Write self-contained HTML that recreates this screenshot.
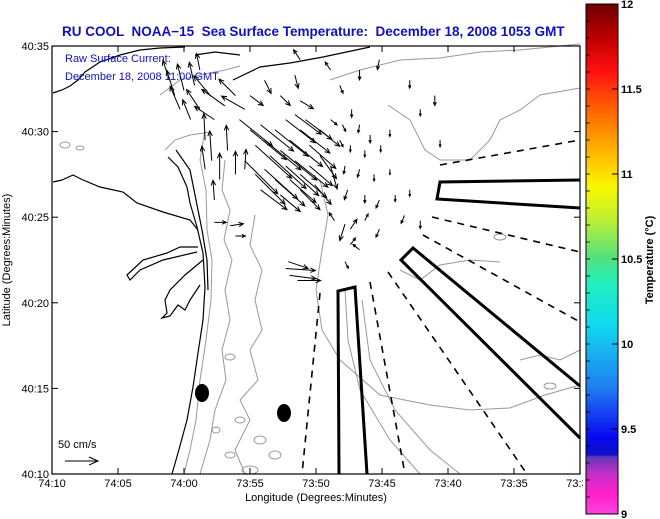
<!DOCTYPE html>
<html><head><meta charset="utf-8">
<style>
html,body{margin:0;padding:0;background:#fff;}
svg{display:block;font-family:"Liberation Sans",Arial,sans-serif;}
</style></head>
<body>
<svg id="chart" width="660" height="519" viewBox="0 0 660 519" xmlns="http://www.w3.org/2000/svg">
<defs>
<linearGradient id="cbar" x1="0" y1="1" x2="0" y2="0">
<stop offset="0" stop-color="#ff40e0"/>
<stop offset="0.04" stop-color="#ff20c8"/>
<stop offset="0.08" stop-color="#c030c8"/>
<stop offset="0.112" stop-color="#6038b8"/>
<stop offset="0.116" stop-color="#1010c8"/>
<stop offset="0.15" stop-color="#0808f0"/>
<stop offset="0.25" stop-color="#2080f0"/>
<stop offset="0.37" stop-color="#10d8f0"/>
<stop offset="0.45" stop-color="#20f0c0"/>
<stop offset="0.5" stop-color="#50e080"/>
<stop offset="0.58" stop-color="#c0f030"/>
<stop offset="0.64" stop-color="#f8f800"/>
<stop offset="0.7" stop-color="#ffc000"/>
<stop offset="0.78" stop-color="#ff7000"/>
<stop offset="0.87" stop-color="#ff1010"/>
<stop offset="0.93" stop-color="#c00000"/>
<stop offset="1" stop-color="#700000"/>
</linearGradient>
</defs>
<rect x="0" y="0" width="660" height="519" fill="#fff"/>
<text x="62" y="36" fill="#1010c0" font-size="13.5" font-weight="bold" xml:space="preserve">RU COOL  NOAA−15  Sea Surface Temperature:  December 18, 2008 1053 GMT</text>

<g id="map">
<g fill="none" stroke="#999" stroke-width="1">
<path d="M205,130 L200,160 L206,190 L207,230 L212,260 L211,300 L206,340 L200,380 L196,420 L190,450 L184,474"/>
<path d="M225,160 L222,190 L230,210 L224,240 L232,260 L225,290 L230,320 L222,350 L226,380 L215,410 L210,440 L200,474"/>
<path d="M255,215 L250,245 L262,270 L255,300 L262,330 L250,350 L258,380 L240,400 L250,420 L235,450 L245,474"/>
<path d="M320,180 L328,215 L322,250 L316,290 L322,330 L340,360 L380,395 L430,405 L470,410 L510,408 L545,395 L580,385"/>
<path d="M345,290 L348,340 L360,390 L390,440 L420,474"/>
<path d="M362,300 L370,360 L395,410 L430,450 L460,474"/>
<path d="M388,105 L410,120 L425,150 L440,160 L470,160 L490,140 L500,120 L520,110 L540,95 L580,88"/>
<path d="M330,80 L360,70 L400,60 L440,58 L480,52 L520,50 L580,44"/>
<path d="M160,95 L180,80 L200,75 L225,70 L240,66"/>
<path d="M165,150 L175,140 L190,135 L210,132"/>
<path d="M400,270 L420,280 L440,265 L470,260 L500,262"/>
<path d="M520,360 L540,355 L560,360 L580,350"/>
<ellipse cx="240" cy="420" rx="5" ry="3"/><ellipse cx="260" cy="440" rx="6" ry="4"/>
<ellipse cx="230" cy="455" rx="5" ry="3"/><ellipse cx="275" cy="455" rx="6" ry="4"/>
<ellipse cx="250" cy="470" rx="8" ry="4"/><ellipse cx="216" cy="430" rx="4" ry="3"/>
<ellipse cx="230" cy="357" rx="5" ry="3"/><ellipse cx="550" cy="386" rx="6" ry="3"/>
<ellipse cx="500" cy="237" rx="6" ry="3"/><ellipse cx="65" cy="145" rx="5" ry="3"/>
<ellipse cx="80" cy="148" rx="4" ry="2"/>
</g>
<g fill="none" stroke="#000" stroke-width="1.2">
<path d="M168,157 L178,167 L187,187 L190,203 L197,227 L203,253 L205,287 L203,320 L198,353 L193,387 L187,420 L178,453 L172,474"/>
<path d="M176,150 L190,170 L196,200 L202,230 L207,260 L208,290"/>
<path d="M53,182 L62,180 L73,175 L83,180 L100,187 L123,192 L137,203 L163,212 L190,220 L198,230"/>
<path d="M198,247 L180,247 L167,253 L143,260 L127,275 L130,280 L140,270 L163,260 L197,252"/>
<path d="M203,260 L185,275 L170,290 L165,300 L167,313 L162,318 L170,316 L178,305 L185,310 L190,300 L200,285"/>
<path d="M53,93 L62,90 L70,86 L78,80 L85,72 L100,62 L120,55 L140,50 L160,48 L185,47"/>
<path d="M195,55 L215,52 L240,55"/>
<path d="M233,80 L260,67 L290,63 L323,57 L370,47"/>
</g>
<g fill="none" stroke="#000" stroke-width="3">
<path d="M339,474 L338,291 L355,287 L367,474"/>
<path d="M580,180 L440,182 L437,199 L580,208"/>
<path d="M580,386 L413,248 L401,260 L580,438"/>
</g>
<g fill="none" stroke="#000" stroke-width="1.6" stroke-dasharray="7,6">
<path d="M440,165 L580,140"/>
<path d="M432,217 L580,252"/>
<path d="M423,235 L580,322"/>
<path d="M388,272 L527,474"/>
<path d="M370,282 L405,474"/>
<path d="M320,293 L302,474"/>
</g>
<ellipse cx="202" cy="393" rx="7" ry="9" fill="#000"/>
<ellipse cx="284" cy="413" rx="7" ry="9" fill="#000"/>
<g id="arrows" stroke="#000" stroke-width="1" fill="none"></g>
</g>

<text x="65" y="62" fill="#1010c0" font-size="11">Raw Surface Current:</text>
<text x="65" y="80" fill="#1010c0" font-size="11">December 18, 2008 11:00 GMT</text>

<text x="58" y="448" font-size="11" fill="#000">50 cm/s</text>
<g stroke="#000" stroke-width="1" fill="none">
<line x1="65" y1="461" x2="98" y2="461"/><path d="M89,457 L98,461 L89,465"/>
</g>

<rect x="52" y="46" width="528" height="428" fill="none" stroke="#000" stroke-width="1.2"/>
<g id="xaxis"></g>
<g id="yaxis"></g>
<text x="316" y="501" text-anchor="middle" font-size="11">Longitude (Degrees:Minutes)</text>
<text transform="translate(10,260) rotate(-90)" text-anchor="middle" font-size="11">Latitude (Degrees:Minutes)</text>

<rect x="583" y="0" width="77" height="519" fill="#fff"/>
<rect x="586" y="4" width="32" height="510" fill="url(#cbar)" stroke="#000" stroke-width="1"/>
<g id="cbticks"></g>
<text transform="translate(653,260) rotate(-90)" text-anchor="middle" font-size="11" font-weight="bold">Temperature (°C)</text>
</svg>
<script>
const xTickMin = [70, 65, 60, 55, 50, 45, 40, 35, 30];
const xTickLabels = ["74:10","74:05","74:00","73:55","73:50","73:45","73:40","73:35","73:30"];
const yTickMin = [10, 15, 20, 25, 30, 35];
const yTickLabels = ["40:10","40:15","40:20","40:25","40:30","40:35"];
const cbTicks = [9, 9.5, 10, 10.5, 11, 11.5, 12];
const cbLabels = ["9","9.5","10","10.5","11","11.5","12"];
const arrowLon = [60.7,60.0,59.2,60.3,59.5,58.8,58.0,61.1,58.8,57.7,56.9,56.1,55.4,
 58.4,57.9,57.3,56.7,56.1,57.7,55.4,58.4,
 55.0,53.9,52.7,51.6,51.2,
 55.8,55.0,54.2,54.6,53.9,53.1,53.5,52.7,52.0,52.3,51.6,51.2,50.5,55.4,54.6,53.9,53.1,52.0,51.2,50.5,52.3,51.6,50.8,49.7,49.7,48.9,54.2,52.7,51.2,50.1,
 48.9,48.0,47.3,46.7,45.9,48.2,47.4,46.3,45.1,44.4,47.8,46.7,45.6,44.4,47.6,46.3,45.2,44.0,43.3,42.1,42.9,42.1,40.6,48.6,47.4,46.3,45.2,
 47.8,47.4,46.7,47.8,
 52.3,52.0,52.1,51.4,
 57.7,56.5,56.1,
 46.7,45.2,42.9,48.2,41.0,51.2,48.9];
const arrowLat = [32.1,32.4,32.7,31.3,30.7,31.3,32.1,33.0,33.6,30.7,31.5,32.1,31.3,
 29.5,28.3,27.2,28.9,27.5,26.0,27.8,27.8,
 32.1,33.0,32.1,33.3,31.8,
 30.7,30.1,30.4,29.2,29.5,30.1,28.6,28.9,29.5,28.0,28.3,30.1,29.2,28.3,27.5,27.8,27.2,27.2,27.5,28.0,30.7,31.0,30.7,30.1,28.6,28.0,26.6,26.3,26.6,26.9,
 30.7,30.4,31.3,30.4,29.8,29.5,29.2,28.9,29.2,30.1,28.0,27.8,27.5,27.8,26.6,26.3,26.0,26.3,25.1,24.8,26.6,31.3,29.5,24.8,24.3,24.8,24.3,
 24.6,23.4,23.1,22.4,
 22.0,21.6,22.4,21.3,
 24.7,24.5,23.9,
 33.6,34.2,33.0,32.7,32.1,34.2,33.6];
const arrowU = [-12,-10,-8,-15,-12,-20,-25,-10,-5,-30,-35,-25,-35,
 -2,-3,0,-2,0,-2,2,-5,
 20,10,15,5,20,
 50,55,50,55,55,50,55,55,50,50,50,45,40,50,45,50,45,40,40,35,45,40,40,30,25,10,40,30,30,25,
 10,5,0,-2,0,5,0,0,0,0,-2,-3,0,0,-5,0,-5,0,-5,0,0,0,0,-8,10,5,-5,
 -8,8,-10,5,
 45,40,30,35,
 18,20,15,
 0,-3,0,5,0,-10,-8];
const arrowV = [38,40,35,35,30,30,30,30,25,20,25,25,20,
 40,45,40,38,35,30,30,35,
 -15,-20,-15,-20,-12,
 -40,-45,-40,-50,-45,-40,-50,-45,-40,-45,-40,-35,-35,-50,-45,-45,-40,-35,-35,-30,-35,-30,-30,-25,-35,-35,-30,-25,-30,-30,
 -8,-10,-12,-12,-12,-10,-10,-10,-10,-10,-12,-12,-10,-8,-15,-12,-12,-10,-12,-12,-10,-10,-10,12,15,10,-12,
 -25,10,8,-10,
 -3,-5,-10,0,
 0,3,0,
 -15,-15,-12,-12,-15,15,12];

const NS = "http://www.w3.org/2000/svg";
const X0 = 52, X1 = 580, Y0 = 474, Y1 = 46;
function xScale(lonMin){ return X0 + (70 - lonMin) / 40 * (X1 - X0); }
function yScale(latMin){ return Y0 - (latMin - 10) / 25 * (Y0 - Y1); }
const PX_PER_CMS = 0.66;
function cbY(t){ return 514 - (t - 9) / 3 * 510; }

function mk(tag, attrs, parent){
  const e = document.createElementNS(NS, tag);
  for (const k in attrs) e.setAttribute(k, attrs[k]);
  parent.appendChild(e);
  return e;
}

const xg = document.getElementById('xaxis');
xTickMin.forEach((m, i) => {
  const x = xScale(m);
  const t = mk('line', {x1:x, x2:x, y1:Y0, y2:Y0-6, stroke:'#000'}, xg);
  
  
  const t2 = mk('line', {x1:x, x2:x, y1:Y1, y2:Y1+6, stroke:'#000'}, xg);
  
  
  const lb = mk('text', {x:x, y:Y0+13, 'text-anchor':'middle', 'font-size':11}, xg);
  lb.textContent = xTickLabels[i];
  
  
});
const yg = document.getElementById('yaxis');
yTickMin.forEach((m, i) => {
  const y = yScale(m);
  const t = mk('line', {x1:X0, x2:X0+6, y1:y, y2:y, stroke:'#000'}, yg);
  
  
  const t2 = mk('line', {x1:X1, x2:X1-6, y1:y, y2:y, stroke:'#000'}, yg);
  
  
  const lb = mk('text', {x:X0-3, y:y+4, 'text-anchor':'end', 'font-size':11}, yg);
  lb.textContent = yTickLabels[i];
  
  
});

const ag = document.getElementById('arrows');
for (let i = 0; i < arrowLon.length; i++) {
  const x = xScale(arrowLon[i]), y = yScale(arrowLat[i]);
  const dx = arrowU[i] * PX_PER_CMS, dy = -arrowV[i] * PX_PER_CMS;
  const x2 = x + dx, y2 = y + dy;
  const len = Math.hypot(dx, dy) || 1;
  const ux = dx / len, uy = dy / len;
  const h = Math.min(5, len * 0.35);
  const hx1 = x2 - h*ux + h*0.45*uy, hy1 = y2 - h*uy - h*0.45*ux;
  const hx2 = x2 - h*ux - h*0.45*uy, hy2 = y2 - h*uy + h*0.45*ux;
  const p = mk('path', {d:`M${x},${y} L${x2},${y2} M${hx1},${hy1} L${x2},${y2} L${hx2},${hy2}`}, ag);
  
  
}

const cg = document.getElementById('cbticks');
for (let k = 0; k <= 30; k++) {
  const y = cbY(9 + k * 0.1);
  const t = mk('line', {x1:586, x2:590, y1:y, y2:y, stroke:'#000', 'stroke-width':0.8}, cg);
  
  
}
cbTicks.forEach((v, i) => {
  const y = cbY(v);
  const t = mk('line', {x1:612, x2:618, y1:y, y2:y, stroke:'#000'}, cg);
  
  
  const lb = mk('text', {x:621, y:y+4, 'font-size':11, 'font-weight':'bold'}, cg);
  lb.textContent = cbLabels[i];
  
  
});
</script>
</body></html>
